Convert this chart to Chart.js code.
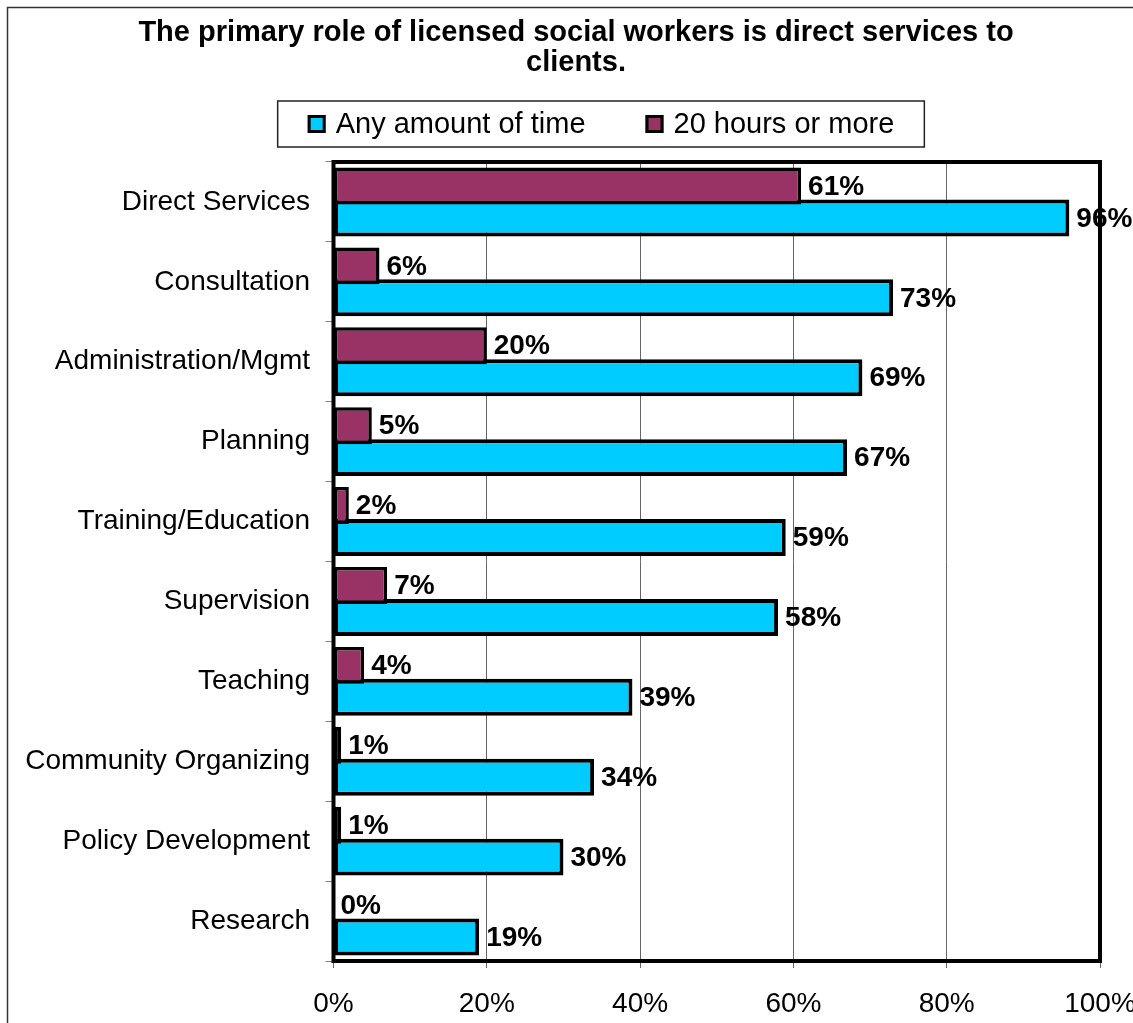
<!DOCTYPE html>
<html>
<head>
<meta charset="utf-8">
<title>Primary role of licensed social workers</title>
<script src="https://cdn.jsdelivr.net/npm/chart.js@4/dist/chart.umd.min.js"></script>
<style>
  html, body { margin: 0; padding: 0; background: #ffffff; }
  canvas { display: block; }
</style>
</head>
<body>
<canvas id="chart" width="1133" height="1023"></canvas>
<script>
// Activity categories, top to bottom
const categories = [
  'Direct Services',
  'Consultation',
  'Administration/Mgmt',
  'Planning',
  'Training/Education',
  'Supervision',
  'Teaching',
  'Community Organizing',
  'Policy Development',
  'Research'
];

// Share of licensed social workers (percent)
const anyAmountOfTime = [96, 73, 69, 67, 59, 58, 39, 34, 30, 19];
const twentyHoursOrMore = [61, 6, 20, 5, 2, 7, 4, 1, 1, 0];

// Axis ticks (percent)
const xTicks = [0, 20, 40, 60, 80, 100];

const titleLines = [
  'The primary role of licensed social workers is direct services to',
  'clients.'
];

const FONT = '"Liberation Sans", Arial, Helvetica, sans-serif';
const CYAN = '#00CCFF';
const MAROON = '#993366';

// Value labels at the end of each bar
const valueLabels = {
  id: 'valueLabels',
  afterDatasetsDraw(chart) {
    const ctx = chart.ctx;
    ctx.save();
    ctx.font = 'bold 28px ' + FONT;
    ctx.fillStyle = '#000000';
    ctx.textAlign = 'left';
    ctx.textBaseline = 'middle';
    chart.data.datasets.forEach((ds, i) => {
      const meta = chart.getDatasetMeta(i);
      meta.data.forEach((bar, j) => {
        ctx.fillText(ds.data[j] + '%', bar.x + 7, bar.y + 1);
      });
    });
    ctx.restore();
  }
};

// Two-line heading, heavy frame round the plot, boxed legend and outer border
const frameAndLegend = {
  id: 'frameAndLegend',
  afterDraw(chart) {
    const ctx = chart.ctx;
    const a = chart.chartArea;
    ctx.save();

    // heading
    ctx.font = 'bold 29px ' + FONT;
    ctx.fillStyle = '#000000';
    ctx.textAlign = 'center';
    ctx.textBaseline = 'middle';
    titleLines.forEach((line, i) => ctx.fillText(line, 576, 33 + i * 30));

    // plot frame
    ctx.strokeStyle = '#000000';
    ctx.lineWidth = 4;
    ctx.strokeRect(a.left, a.top, a.right - a.left, a.bottom - a.top);

    // outer border
    ctx.strokeStyle = '#333333';
    ctx.lineWidth = 1.5;
    ctx.strokeRect(7.5, 7.5, 2000, 2000);

    // legend: "Any amount of time" first, then "20 hours or more"
    const items = chart.data.datasets.slice().reverse();
    ctx.font = '29px ' + FONT;
    const box = 18, boxGap = 10, itemGap = 60, padX = 30;
    const widths = items.map(ds => box + boxGap + ctx.measureText(ds.label).width);
    const total = widths.reduce((s, w) => s + w, 0) + itemGap * (items.length - 1) + padX * 2;
    const centerX = 601, top = 101, height = 46;
    const left = centerX - total / 2;

    ctx.fillStyle = '#ffffff';
    ctx.fillRect(left, top, total, height);
    ctx.strokeStyle = '#222222';
    ctx.lineWidth = 1.5;
    ctx.strokeRect(left, top, total, height);

    let x = left + padX;
    const midY = top + height / 2;
    items.forEach((ds, i) => {
      ctx.fillStyle = ds.backgroundColor;
      ctx.fillRect(x, midY - box / 2, box, box);
      ctx.strokeStyle = '#000000';
      ctx.lineWidth = 3;
      ctx.strokeRect(x + 1.5, midY - box / 2 + 1.5, box - 3, box - 3);
      ctx.fillStyle = '#000000';
      ctx.textAlign = 'left';
      ctx.textBaseline = 'middle';
      ctx.fillText(ds.label, x + box + boxGap, midY + 1);
      x += widths[i] + itemGap;
    });

    ctx.restore();
  }
};

new Chart(document.getElementById('chart'), {
  type: 'bar',
  data: {
    labels: categories,
    datasets: [
      {
        label: '20 hours or more',
        data: twentyHoursOrMore,
        backgroundColor: MAROON,
        borderColor: '#000000',
        borderWidth: 3.5,
        borderSkipped: false,
        categoryPercentage: 0.80,
        barPercentage: 1.156
      },
      {
        label: 'Any amount of time',
        data: anyAmountOfTime,
        backgroundColor: CYAN,
        borderColor: '#000000',
        borderWidth: 4,
        borderSkipped: false,
        categoryPercentage: 0.80,
        barPercentage: 1.156
      }
    ]
  },
  options: {
    indexAxis: 'y',
    responsive: false,
    animation: false,
    devicePixelRatio: 1,
    layout: { padding: { left: 8, right: 33, top: 162, bottom: 0 } },
    plugins: {
      legend: { display: false },
      tooltip: { enabled: false },
      title: { display: false }
    },
    scales: {
      x: {
        type: 'linear',
        position: 'bottom',
        min: 0,
        max: 100,
        afterBuildTicks(scale) {
          scale.ticks = xTicks.map(v => ({ value: v }));
        },
        afterFit(scale) {
          scale.height = 62;
          scale.paddingLeft = 0;
          scale.paddingRight = 0;
        },
        border: { display: false },
        grid: {
          display: true,
          drawOnChartArea: true,
          drawTicks: true,
          tickLength: 7,
          color: '#666666',
          tickColor: '#666666',
          lineWidth: 1
        },
        ticks: {
          color: '#000000',
          padding: 19.5,
          maxRotation: 0,
          autoSkip: false,
          font: { family: FONT, size: 28 },
          callback: v => v + '%'
        }
      },
      y: {
        type: 'category',
        position: 'left',
        offset: true,
        afterFit(scale) {
          scale.width = 325.5;
          scale.paddingTop = 0;
          scale.paddingBottom = 0;
        },
        border: { display: false },
        grid: {
          offset: true,
          drawOnChartArea: false,
          drawTicks: true,
          tickLength: 8,
          color: '#808080',
          tickColor: '#808080'
        },
        ticks: {
          color: '#000000',
          padding: 15.5,
          autoSkip: false,
          font: { family: FONT, size: 28 }
        }
      }
    }
  },
  plugins: [valueLabels, frameAndLegend]
});
</script>
</body>
</html>
